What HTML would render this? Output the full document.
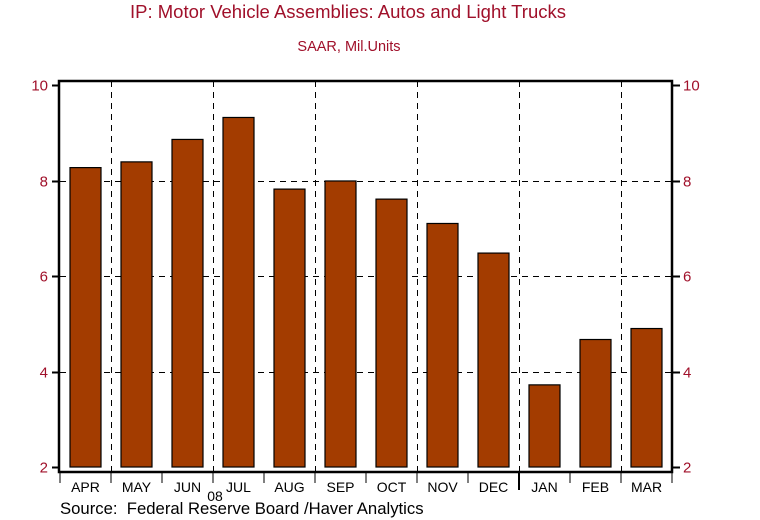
<!DOCTYPE html>
<html><head><meta charset="utf-8"><style>
body{margin:0;background:#fff;}
svg{display:block;font-family:"Liberation Sans",sans-serif;}
text{white-space:pre;}
</style></head><body>
<svg id="c" width="760" height="520">
<text x="348" y="18" text-anchor="middle" font-size="18.5" fill="#a0102a">IP: Motor Vehicle Assemblies: Autos and Light Trucks</text>
<text x="349" y="51" text-anchor="middle" font-size="14.5" fill="#a0102a">SAAR, Mil.Units</text>
<g id="grid" shape-rendering="crispEdges"></g><g id="bars"></g><g id="axes"></g>
<text x="215" y="501" text-anchor="middle" font-size="14" fill="#000">08</text>
<text x="60" y="514" font-size="16.7" fill="#000">Source:  Federal Reserve Board /Haver Analytics</text>
</svg>
<script>
const categories=["APR","MAY","JUN","JUL","AUG","SEP","OCT","NOV","DEC","JAN","FEB","MAR"];
const values=[8.27,8.39,8.86,9.32,7.82,7.99,7.61,7.10,6.48,3.72,4.67,4.90];
const yTicks=[2,4,6,8,10];
const ns="http://www.w3.org/2000/svg";
const L=60,R=672,T=81,B=472,y0=467,y1=85,vmin=2,vmax=10;
const bw=(R-L)/categories.length;
const y=v=>y0-(v-vmin)/(vmax-vmin)*(y0-y1);
const x=i=>L+i*bw;
function mk(t,a,p){const e=document.createElementNS(ns,t);for(const k in a)e.setAttribute(k,a[k]);p.appendChild(e);return e;}
const grid=document.getElementById('grid'),bars=document.getElementById('bars'),axes=document.getElementById('axes');
yTicks.forEach(v=>{
 const yy=Math.round(y(v))+0.5;
 if(v>vmin&&v<vmax){const g=mk('line',{x1:L,x2:R,y1:yy,y2:yy,stroke:'#000','stroke-dasharray':'6,5','stroke-width':1},grid);
 }
 const t1=mk('line',{x1:L-8,x2:L,y1:yy,y2:yy,stroke:'#000','stroke-width':2},axes);
 
 const t2=mk('line',{x1:R,x2:R+8,y1:yy,y2:yy,stroke:'#000','stroke-width':2},axes);
 
 const l1=mk('text',{x:L-12,y:yy+5,'text-anchor':'end','font-size':15,fill:'#a0102a'},axes);l1.textContent=v;
 
 const l2=mk('text',{x:R+11,y:yy+5,'font-size':15,fill:'#a0102a'},axes);l2.textContent=v;
 
});
for(let i=1;i<categories.length;i+=2){
 const xx=Math.round(x(i))+0.5;
 const g=mk('line',{x1:xx,x2:xx,y1:T,y2:B,stroke:'#000','stroke-dasharray':'6,5','stroke-width':1},grid);
 
}
categories.forEach((c,i)=>{
 const v=values[i];
 const r=mk('rect',{x:x(i)+bw/2-15.5,y:y(v),width:31,height:y(vmin)-y(v),fill:'#a33c00',stroke:'#000','stroke-width':1.2},bars);
 
 const t=mk('text',{x:x(i)+bw/2,y:492,'text-anchor':'middle','font-size':14,fill:'#000'},axes);t.textContent=c;
 
});
for(let i=0;i<=categories.length;i++){
 const big=(categories[i]==="JAN");
 const tk=mk('line',{x1:x(i),x2:x(i),y1:B,y2:big?490:483,stroke:'#000','stroke-width':big?2:1},axes);
 
}
const f=mk('rect',{x:L-1,y:T,width:R-L+1,height:B-T,fill:'none',stroke:'#000','stroke-width':2.5},axes);

</script>
</body></html>
